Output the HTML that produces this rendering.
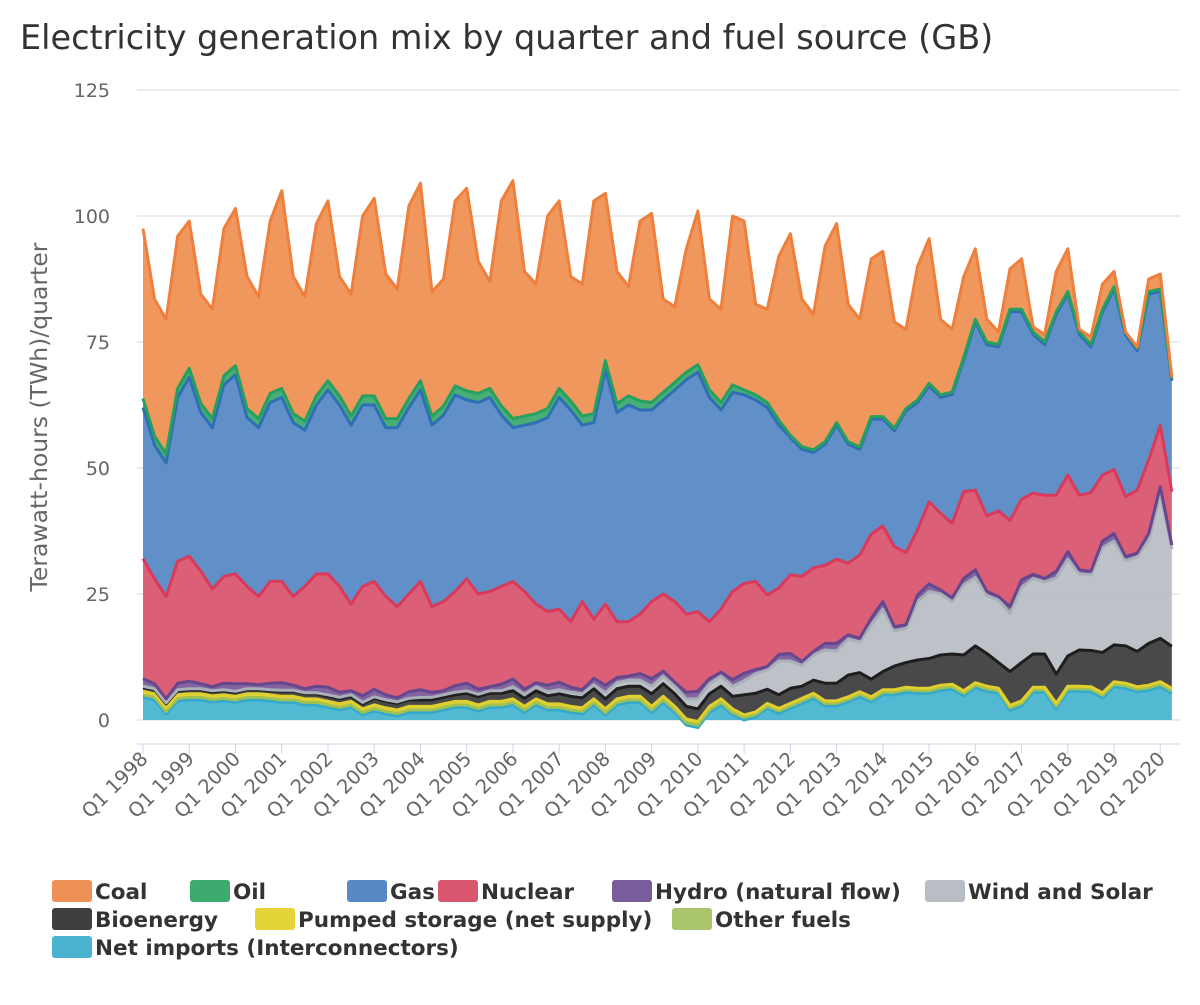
<!DOCTYPE html>
<html><head><meta charset="utf-8">
<style>
body{margin:0;background:#fff;}
svg text{font-family:"DejaVu Sans","Liberation Sans",sans-serif;}
</style></head>
<body>
<svg id="chart" width="1200" height="1000" xmlns="http://www.w3.org/2000/svg">
<rect width="1200" height="1000" fill="#fff"/>
<text x="20" y="49" font-size="33.5" fill="#333">Electricity generation mix by quarter and fuel source (GB)</text>
<text transform="translate(47,417) rotate(-90)" text-anchor="middle" font-size="23.5" fill="#666">Terawatt-hours (TWh)/quarter</text>
<g id="grid"></g><g id="areas"></g><g id="lines"></g><g id="axes"></g><g id="legend"></g>
</svg>
<script>
const startYear = 1998;
const imports = [4.5,4.0,1.2,3.8,4.0,4.0,3.6,3.8,3.5,4.0,4.0,3.8,3.5,3.5,3.0,3.0,2.5,2.0,2.5,1.0,1.8,1.2,0.8,1.5,1.5,1.5,2.0,2.5,2.5,1.8,2.5,2.5,3.0,1.5,3.0,2.0,2.0,1.5,1.2,3.0,1.0,3.0,3.5,3.5,1.5,3.5,1.5,-1.0,-1.5,1.5,3.0,1.0,
 0.0,0.6,2.3,1.3,2.3,3.3,4.3,2.8,2.8,3.6,4.6,3.6,5.0,5.0,5.5,5.3,5.3,5.9,6.1,4.8,6.4,5.7,5.3,1.9,2.8,5.5,5.5,2.3,5.7,5.7,5.6,4.4,6.6,6.3,5.6,5.9,6.6,5.3];
const otherFuels = [0.5,0.5,0.5,0.5,0.5,0.5,0.5,0.5,0.5,0.5,0.5,0.5,0.5,0.5,0.5,0.5,0.5,0.5,0.5,0.5,0.5,0.5,0.5,0.5,0.5,0.5,0.5,0.5,0.5,0.5,0.5,0.5,0.5,0.5,0.5,0.5,0.5,0.5,0.5,0.5,0.5,0.5,0.5,0.5,0.5,0.5,0.5,0.5,0.5,0.5,0.5,0.5,
 0.5,0.5,0.5,0.5,0.5,0.5,0.5,0.5,0.5,0.5,0.5,0.5,0.5,0.5,0.5,0.5,0.5,0.5,0.5,0.5,0.5,0.5,0.5,0.5,0.5,0.5,0.5,0.5,0.5,0.5,0.5,0.5,0.5,0.5,0.5,0.5,0.5,0.5];
const pumped = [0.7,0.7,0.7,0.7,0.7,0.7,0.7,0.7,0.7,0.7,0.7,0.7,0.7,0.7,0.7,0.7,0.7,0.7,0.7,0.7,0.7,0.7,0.7,0.7,0.7,0.7,0.7,0.7,0.7,0.7,0.7,0.7,0.7,0.7,0.7,0.7,0.7,0.7,0.7,0.7,0.7,0.7,0.7,0.7,0.7,0.7,0.7,0.7,0.7,0.7,0.7,0.7,
 0.5,0.5,0.5,0.5,0.5,0.5,0.5,0.5,0.5,0.5,0.5,0.5,0.5,0.5,0.5,0.5,0.5,0.5,0.5,0.5,0.5,0.5,0.5,0.5,0.5,0.5,0.5,0.5,0.5,0.5,0.5,0.5,0.5,0.5,0.5,0.5,0.5,0.5];
const bioenergy = [0.8,0.8,0.8,0.8,0.8,0.8,0.8,0.8,0.8,0.8,0.8,0.8,1.0,1.0,1.0,1.0,1.0,1.0,1.0,1.0,1.3,1.3,1.3,1.3,1.3,1.3,1.3,1.3,1.6,1.6,1.6,1.6,1.6,1.6,1.6,1.6,2.0,2.0,2.0,2.0,2.0,2.0,2.0,2.0,2.5,2.5,2.5,2.5,2.5,2.5,2.5,2.5,
 4.0,3.7,2.8,2.7,3.0,2.4,2.6,3.5,3.5,4.3,3.8,3.5,3.6,4.7,4.9,5.6,5.9,6.0,6.0,7.1,7.3,6.5,5.1,6.7,7.6,6.6,6.6,5.8,6.0,7.2,7.2,8.0,7.3,7.4,7.0,8.3,8.6,8.3];
const windSolar = [0.2,0.2,0.2,0.2,0.2,0.2,0.2,0.2,0.2,0.2,0.2,0.2,0.2,0.2,0.2,0.2,0.3,0.3,0.3,0.3,0.3,0.3,0.3,0.3,0.5,0.5,0.5,0.5,0.5,0.5,0.5,0.5,0.8,0.8,0.8,0.8,0.8,0.8,0.8,0.8,1.2,1.2,1.2,1.2,1.5,1.5,1.5,1.5,2.0,2.0,2.0,2.0,
 2.8,3.9,3.8,6.7,5.4,4.1,5.0,6.6,6.4,7.2,6.1,10.8,12.4,7.0,6.8,11.6,13.3,12.1,10.4,13.9,13.6,11.5,12.4,11.6,14.9,15.0,14.3,19.1,19.2,15.1,15.0,20.8,20.6,16.9,18.8,20.5,28.6,19.3];
const hydro = [1.5,1.0,0.8,1.3,1.5,1.0,0.8,1.3,1.5,1.0,0.8,1.3,1.5,1.0,0.8,1.3,1.5,1.0,0.8,1.3,1.5,1.0,0.8,1.3,1.5,1.0,0.8,1.3,1.5,1.0,0.8,1.3,1.5,1.0,0.8,1.3,1.5,1.0,0.8,1.3,1.5,1.0,0.8,1.3,1.5,1.0,0.8,1.3,1.5,1.0,0.8,1.3,
 1.5,0.8,0.7,1.3,1.5,0.8,0.7,1.3,1.5,0.8,0.7,1.3,1.5,0.8,0.7,1.3,1.5,0.8,0.7,1.3,1.5,0.8,0.7,1.3,1.5,0.8,0.7,1.3,1.5,0.8,0.7,1.3,1.5,0.8,0.7,1.3,1.5,0.8];
const nuclear = [23.8,20.8,20.3,24.2,24.8,22.3,19.4,21.2,21.8,19.3,17.5,20.2,20.1,17.6,20.3,22.3,22.5,21,17.2,21.7,21.4,19.5,18.1,19.4,21.5,17,17.7,18.7,20.7,18.9,18.9,19.4,19.4,19.4,15.6,14.6,14.5,13,17.5,11.7,16.1,11.1,10.8,11.8,15.3,15.3,16,15.5,15.8,11.3,12.5,17.5,
 17.8,17.5,14.2,13.2,15.6,16.9,16.6,15.5,16.7,14.2,16.5,16.7,15.0,15.9,14.3,12.9,16.3,15.2,14.8,17.2,15.8,15.0,17.0,17.1,16.0,16.1,16.5,15.1,15.2,14.8,15.6,13.1,12.7,11.9,12.5,14.6,12.2,10.6];
const gas = [30,26.5,26.5,32.5,35.5,31.5,32,38,39.5,33.5,33.5,35.5,36.5,34.5,31,33.5,36.5,36,35.5,36,35,33.5,35.5,37,38,36,37,39,35.5,38,38.5,34,30.5,33,36,38.5,42,42,35,39,46.5,41.5,43,40.5,38,38.5,42,46.5,47.5,44.5,39.5,39.5,
 37.4,36.0,37.2,32.3,27.2,25.2,22.9,24.0,26.6,23.6,21.0,22.8,21.2,23.0,28.1,25.3,23.0,23.0,25.6,26.2,33.4,34.0,32.5,41.4,37.2,31.5,29.9,35.9,35.9,31.9,28.9,32.4,35.8,32.1,27.7,32.9,26.5,22.0];
const oil = [1.8,1.8,1.8,1.8,1.8,1.8,1.8,1.8,1.8,1.8,1.8,1.8,1.8,1.8,1.8,1.8,1.8,1.8,1.8,1.8,1.8,1.8,1.8,1.8,1.8,1.8,1.8,1.8,1.8,1.8,1.8,1.8,1.8,1.8,1.8,1.8,1.8,1.8,1.8,1.8,1.8,1.8,1.8,1.8,1.5,1.5,1.5,1.5,1.5,1.5,1.5,1.5,
 1,1,1,1,0.5,0.5,0.5,0.5,0.5,0.5,0.5,0.5,0.5,0.5,0.5,0.5,0.5,0.5,0.5,0.5,0.5,0.5,0.5,0.5,0.5,0.5,0.5,0.5,0.5,0.5,0.5,0.5,0.5,0.5,0.5,0.5,0.5,0.5];
const coal = [33.7,27.2,26.7,30.2,29.2,21.7,21.7,29.2,31.2,26.2,24.2,34.2,39.2,27.2,24.7,34.2,35.7,23.7,24.2,35.7,39.2,28.7,25.7,38.2,39.2,24.7,25.2,36.7,40.2,26.2,21.2,40.7,47.2,28.7,25.7,38.2,37.2,24.7,26.2,42.2,33.2,26.2,21.7,35.7,37.5,18.5,15,24.5,30.5,18,18.5,33.5,
 33.5,18,18.5,32.5,40,29.3,26.9,38.8,39.5,27.3,25.3,31.3,32.8,21.1,15.7,26.5,28.7,15,12.4,16,14,4.5,2.5,8,10,1,1.5,8,8.5,0.5,1.5,5,3,0.1,0.2,2.5,3,0.2];
const yTicks = [0,25,50,75,100,125];
const xYearLabels = ["Q1 1998","Q1 1999","Q1 2000","Q1 2001","Q1 2002","Q1 2003","Q1 2004","Q1 2005","Q1 2006","Q1 2007","Q1 2008","Q1 2009","Q1 2010","Q1 2011","Q1 2012","Q1 2013","Q1 2014","Q1 2015","Q1 2016","Q1 2017","Q1 2018","Q1 2019","Q1 2020"];

const NS="http://www.w3.org/2000/svg";
const X0=143, DX=11.56, Y0=720, KY=5.04;
function xs(i){return X0+i*DX;}
function ys(v){return Y0-v*KY;}
function mk(tag,attrs,parent){const e=document.createElementNS(NS,tag);for(const k in attrs)e.setAttribute(k,attrs[k]);parent.appendChild(e);return e;}

const grid=document.getElementById('grid');
yTicks.forEach(t=>{
  const l=mk('line',{x1:137,x2:1180,y1:ys(t),y2:ys(t),stroke:'#d8d8d8','stroke-width':1},grid);
  
  
  const tx=mk('text',{x:110,y:ys(t)+7,'text-anchor':'end','font-size':19,fill:'#666'},grid);
  tx.textContent=t;
  
  
});

const series=[
 {name:'net-imports',data:imports,fill:'#4ab4d0',line:'#33a9cb'},
 {name:'other-fuels',data:otherFuels,fill:'#a9c46a',line:'#a3c14f'},
 {name:'pumped-storage',data:pumped,fill:'#e5d33a',line:'#e0cf2c'},
 {name:'bioenergy',data:bioenergy,fill:'#3f3f3f',line:'#1e1e1e'},
 {name:'wind-and-solar',data:windSolar,fill:'#b9bec5',line:'#aab0b8'},
 {name:'hydro',data:hydro,fill:'#7a5c9b',line:'#66468c'},
 {name:'nuclear',data:nuclear,fill:'#d9566f',line:'#d93a5c'},
 {name:'gas',data:gas,fill:'#5889c4',line:'#2f6fb5'},
 {name:'oil',data:oil,fill:'#3daa6e',line:'#25a05e'},
 {name:'coal',data:coal,fill:'#ef9155',line:'#ee7f3c'}
];
const n=coal.length;
let base=new Array(n).fill(0);
const areas=document.getElementById('areas'), lines=document.getElementById('lines');
series.forEach(s=>{
  const top=base.map((b,i)=>b+s.data[i]);
  let d='M'+xs(0)+','+ys(top[0]);
  for(let i=1;i<n;i++) d+='L'+xs(i)+','+ys(top[i]);
  let da=d;
  for(let i=n-1;i>=0;i--) da+='L'+xs(i)+','+ys(base[i]);
  da+='Z';
  const a=mk('path',{d:da,fill:s.fill,'fill-opacity':0.95},areas);
  
  
  const l=mk('path',{d:d,fill:'none',stroke:s.line,'stroke-width':3,'stroke-linejoin':'round'},lines);
  
  
  base=top;
});

const axes=document.getElementById('axes');
const ax=mk('line',{x1:137,x2:1180,y1:744,y2:744,stroke:'#ccd6eb','stroke-width':1},axes);


xYearLabels.forEach((lab,j)=>{
  const x=xs(j*4);
  const tk=mk('line',{x1:x,x2:x,y1:744,y2:754,stroke:'#ccd6eb'},axes);
  
  
  const t=mk('text',{transform:'translate('+(x+6)+',760) rotate(-45)','text-anchor':'end','font-size':19.5,fill:'#666'},axes);
  t.textContent=lab;
  
  
});

const legendItems=[
 ['Coal','#ef9155',52,880],['Oil','#3daa6e',190,880],['Gas','#5889c4',347,880],['Nuclear','#d9566f',438,880],
 ['Hydro (natural flow)','#7a5c9b',612,880],['Wind and Solar','#b9bec5',925,880],
 ['Bioenergy','#3f3f3f',52,908],['Pumped storage (net supply)','#e5d33a',255,908],['Other fuels','#a9c46a',672,908],
 ['Net imports (Interconnectors)','#4ab4d0',52,936]
];
const lg=document.getElementById('legend');
legendItems.forEach(it=>{
  const g=mk('g',{},lg);
  
  
  const r=mk('rect',{x:it[2],y:it[3],width:40,height:22,rx:3,fill:it[1]},g);
  
  
  const t=mk('text',{x:it[2]+43,y:it[3]+19,'font-size':21.5,'font-weight':'bold',fill:'#333'},g);
  t.textContent=it[0];
  
  
});
</script>
</body></html>
